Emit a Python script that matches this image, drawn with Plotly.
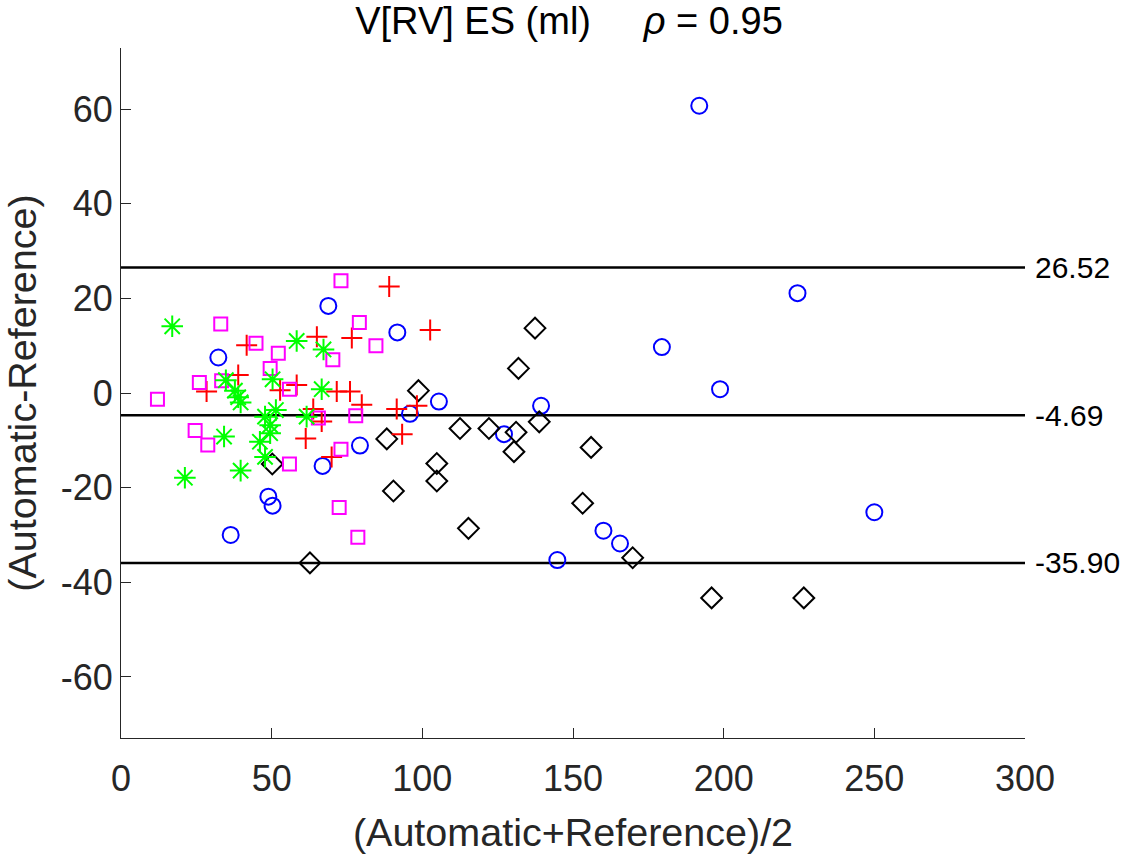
import plotly.graph_objects as go

# Bland-Altman data
circ_x = [191.9, 224.5, 179.5, 198.8, 250.0, 68.8, 91.7, 32.3, 105.5, 95.9,
          139.4, 127.1, 79.3, 66.9, 48.9, 50.3, 36.4, 160.1, 165.6, 144.8]
circ_y = [60.7, 21.1, 9.7, 0.8, -25.2, 18.4, 12.8, 7.5, -1.8, -4.4,
          -2.7, -8.7, -11.1, -15.4, -21.9, -23.8, -30.0, -29.1, -31.8, -35.3]

diam_x = [137.4, 131.9, 98.7, 112.5, 122.1, 131.1, 138.8, 130.4, 156.0, 104.8,
          104.8, 153.2, 115.3, 169.8, 196.0, 226.6, 88.2, 50.2, 90.4, 62.7]
diam_y = [13.7, 5.2, 0.5, -7.5, -7.5, -8.3, -6.1, -12.4, -11.5, -14.9,
          -18.6, -23.3, -28.6, -34.8, -43.3, -43.3, -9.7, -15.0, -20.7, -35.9]

plus_x = [89.0, 102.6, 65.0, 76.6, 41.7, 38.9, 28.4, 52.8, 58.3, 71.6,
          76.0, 79.9, 91.5, 63.8, 66.6, 61.3, 69.9, 93.3, 98.2]
plus_y = [22.5, 13.3, 11.9, 11.6, 10.1, 3.8, 0.3, 0.6, 1.7, 0.3,
          0.3, -2.5, -3.4, -3.4, -6.0, -9.6, -13.5, -8.7, -2.7]

sq_x = [73.0, 33.1, 79.1, 84.6, 44.8, 52.2, 70.3, 49.5, 26.0, 33.4,
        12.1, 55.9, 65.5, 77.9, 24.6, 28.8, 73.0, 55.9, 72.4, 78.6]
sq_y = [23.7, 14.6, 14.9, 10.0, 10.5, 8.4, 7.0, 5.2, 2.2, 2.6,
        -1.3, 0.8, -5.3, -4.8, -7.9, -11.0, -11.9, -15.0, -24.2, -30.5]

star_x = [17.0, 58.3, 67.2, 34.8, 37.8, 38.9, 39.7, 50.3, 51.4, 47.8,
          49.5, 49.5, 46.1, 47.8, 34.2, 39.7, 21.2, 61.6, 66.6]
star_y = [14.1, 11.0, 9.2, 2.7, 0.5, -0.9, -2.0, 2.9, -3.6, -5.0,
          -6.8, -8.5, -10.3, -13.5, -9.2, -16.4, -17.9, -5.0, 0.8]

limits = [26.52, -4.69, -35.90]
x_ticks = [0, 50, 100, 150, 200, 250, 300]
y_ticks = [-60, -40, -20, 0, 20, 40, 60]
y_tick_labels = ["-60", "-40", "-20", "0", "20", "40", "60"]

font = "Liberation Sans, Arial, Helvetica, sans-serif"
axcol = "#262626"

fig = go.Figure()

for lim in limits:
    fig.add_hline(y=lim, line=dict(color="black", width=2.5), layer="below")
    fig.add_annotation(x=1, xref="paper", y=lim, yref="y", text=f"{lim:.2f}",
                       showarrow=False, xanchor="left", xshift=8,
                       font=dict(family=font, size=30, color="black"))

fig.add_trace(go.Scatter(x=circ_x, y=circ_y, mode="markers",
                         marker=dict(symbol="circle-open", size=16, color="blue",
                                     line=dict(width=2, color="blue"))))
fig.add_trace(go.Scatter(x=diam_x, y=diam_y, mode="markers",
                         marker=dict(symbol="diamond-open", size=16, color="black",
                                     line=dict(width=2, color="black"))))
fig.add_trace(go.Scatter(x=plus_x, y=plus_y, mode="markers",
                         marker=dict(symbol="cross-thin-open", size=15, color="red",
                                     line=dict(width=2, color="red"))))
fig.add_trace(go.Scatter(x=sq_x, y=sq_y, mode="markers",
                         marker=dict(symbol="square-open", size=13, color="magenta",
                                     line=dict(width=2, color="magenta"))))
fig.add_trace(go.Scatter(x=star_x, y=star_y, mode="markers",
                         marker=dict(symbol="asterisk-open", size=18, color="lime",
                                     line=dict(width=2, color="lime"))))

fig.update_layout(
    width=1129, height=862,
    margin=dict(l=121, r=104, t=48, b=124),
    paper_bgcolor="white", plot_bgcolor="white",
    showlegend=False,
    font=dict(family=font, color=axcol),
    title=dict(text="V[RV] ES (ml)\u00a0\u00a0\u00a0\u00a0\u00a0<i>\u03c1</i> = 0.95",
               x=0.504, xanchor="center", y=1 - 21 / 862, yanchor="middle",
               yref="container", automargin=False,
               font=dict(family=font, size=38, color="black")),
)
fig.update_xaxes(range=[0, 300], tickvals=x_ticks, ticks="inside", ticklen=10,
                 tickcolor=axcol, showline=True, linecolor=axcol, linewidth=1.2,
                 showgrid=False, zeroline=False, automargin=False,
                 ticklabelstandoff=9, tickfont=dict(size=36, color=axcol),
                 title=dict(text="(Automatic+Reference)/2", font=dict(size=39.5, color=axcol),
                            standoff=20))
fig.update_yaxes(range=[-72.9, 72.9], tickvals=y_ticks, ticktext=y_tick_labels,
                 ticks="inside", ticklen=10,
                 tickcolor=axcol, showline=True, linecolor=axcol, linewidth=1.2,
                 showgrid=False, zeroline=False, automargin=False,
                 tickfont=dict(size=36, color=axcol),
                 title=dict(text="(Automatic-Reference)", font=dict(size=39.5, color=axcol),
                            standoff=17))

# drop the page's default body margin so the figure sits at the window corner
fig.write_html("out.html", config={"displayModeBar": False},
               post_script="document.body.style.margin = '0';")
